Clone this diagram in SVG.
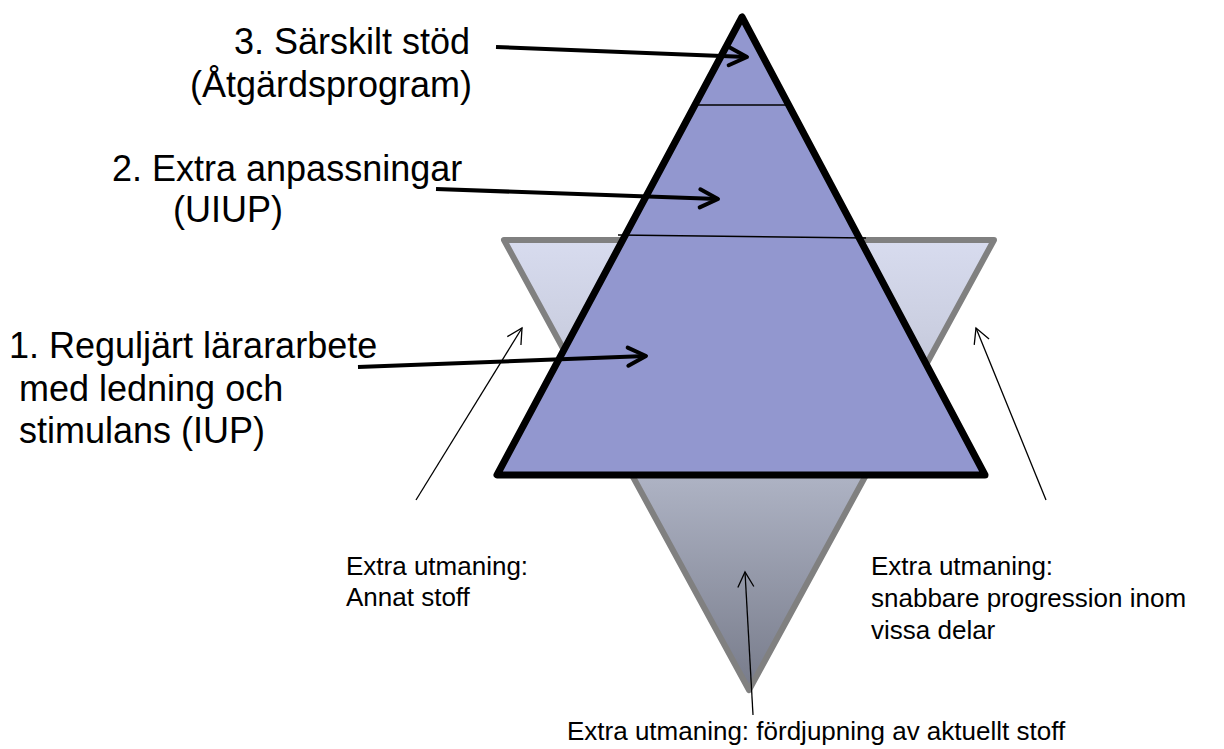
<svg xmlns="http://www.w3.org/2000/svg" width="1224" height="749" viewBox="0 0 1224 749">
<style>
.big{font-family:"Liberation Sans",Arial,sans-serif;font-size:36px;fill:#000}
.small{font-family:"Liberation Sans",Arial,sans-serif;font-size:26px;fill:#000}
.thick{stroke:#000;stroke-width:4;fill:none;marker-end:url(#headThick)}
.thin{stroke:#000;stroke-width:1.3;fill:none;marker-end:url(#headThin)}
</style>
<defs>
<linearGradient id="gInv" gradientUnits="userSpaceOnUse" x1="0" y1="237" x2="0" y2="695">
<stop offset="0" stop-color="#d8dcef"/>
<stop offset="0.2" stop-color="#cbcfe1"/>
<stop offset="0.53" stop-color="#adb2c3"/>
<stop offset="1" stop-color="#767a89"/>
</linearGradient>
<marker id="headThick" markerUnits="userSpaceOnUse" viewBox="-22 -12 26 24" refX="0" refY="0" markerWidth="26" markerHeight="24" orient="auto">
<path d="M -18 -9 L 0 0 L -18 9" fill="none" stroke="#000" stroke-width="4" stroke-linecap="round" stroke-linejoin="round"/>
</marker>
<marker id="headThin" markerUnits="userSpaceOnUse" viewBox="-18 -10 20 20" refX="0" refY="0" markerWidth="20" markerHeight="20" orient="auto">
<path d="M -15 -8 L 0 0 L -15 8" fill="none" stroke="#000" stroke-width="1.3"/>
</marker>
</defs>
<rect width="1224" height="749" fill="#fff"/>

<g id="challenge-triangle">
<polygon points="504,240 994,240 749,690" fill="url(#gInv)" stroke="#808080" stroke-width="6" stroke-linejoin="round"/>
</g>

<g id="support-pyramid">
<polygon points="742,17 497,475 985,475" fill="#9297cf" stroke="#000" stroke-width="7" stroke-linejoin="round"/>
<line x1="698" y1="105" x2="787" y2="105" stroke="#000" stroke-width="1.5"/>
<line x1="618" y1="235" x2="866" y2="238" stroke="#000" stroke-width="1.5"/>
</g>

<g id="label-3">
<text class="big" x="234" y="54">3. Särskilt stöd</text>
<text class="big" x="190" y="97">(Åtgärdsprogram)</text>
</g>
<g id="label-2">
<text class="big" x="112" y="181">2. Extra anpassningar</text>
<text class="big" x="173" y="222">(UIUP)</text>
</g>
<g id="label-1">
<text class="big" x="9" y="358">1. Reguljärt lärararbete</text>
<text class="big" x="19" y="401">med ledning och</text>
<text class="big" x="19" y="443">stimulans (IUP)</text>
</g>
<g id="label-left">
<text class="small" x="346" y="575">Extra utmaning:</text>
<text class="small" x="346" y="606">Annat stoff</text>
</g>
<g id="label-right">
<text class="small" x="871" y="575">Extra utmaning:</text>
<text class="small" x="871" y="607">snabbare progression inom</text>
<text class="small" x="871" y="639">vissa delar</text>
</g>
<g id="label-bottom">
<text class="small" x="567" y="740">Extra utmaning: fördjupning av aktuellt stoff</text>
</g>

<g id="connectors">
<line class="thick" x1="496" y1="47" x2="747" y2="57"/>
<line class="thick" x1="436" y1="189" x2="718" y2="199"/>
<line class="thick" x1="358" y1="367" x2="646" y2="356"/>
<line class="thin" x1="416" y1="500" x2="522" y2="328"/>
<line class="thin" x1="1046" y1="500" x2="976" y2="328"/>
<line class="thin" x1="753" y1="715" x2="745" y2="572"/>
</g>
</svg>
